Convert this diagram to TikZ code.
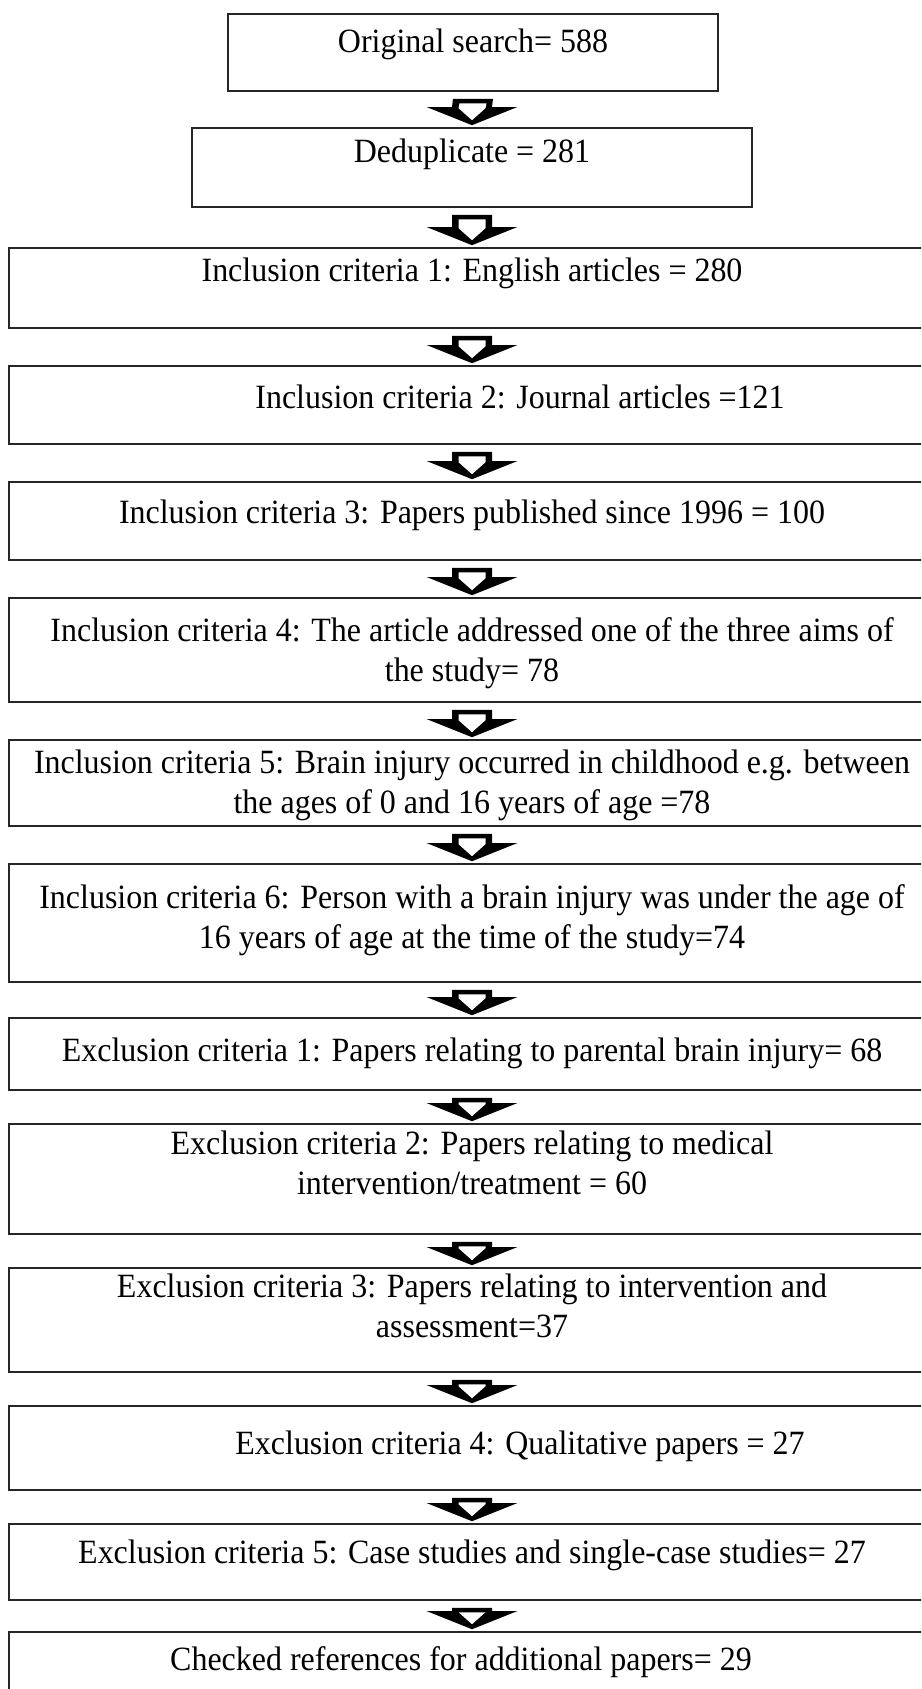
\documentclass[tikz,border=0pt]{standalone}
\usepackage{fontspec}
\setmainfont{Liberation Serif}[FakeStretch=0.94]
\usetikzlibrary{fit,calc}
\begin{document}
\begin{tikzpicture}[x=0.5pt,y=-0.5pt,
  box/.style={draw=black!85, line width=0.8pt, inner sep=0pt},
  txt/.style={font=\fontsize{17}{20}\selectfont, align=center, inner sep=0pt, text=black},
  blkout/.style={fill=black, draw=none},
  blkin/.style={fill=white, draw=none}]
\useasboundingbox (0,0) rectangle (921,1689);
\clip (0,0) rectangle (921,1689);
\newcommand{\blkarrow}[2]{%
  \fill[blkout] ($(#1.south)+(-20,7)$) -- ($(#1.south)+(20,7)$)
    -- ($(#2.north)+(20,-20)$) -- ($(#2.north)+(45,-20)$)
    -- ($(#2.north)+(0,-2)$)
    -- ($(#2.north)+(-45,-20)$) -- ($(#2.north)+(-20,-20)$) -- cycle;
  \fill[blkin] ($(#1.south)+(-13.5,11.5)$) -- ($(#1.south)+(13.5,11.5)$)
    -- ($(#2.north)+(13.5,-19)$) -- ($(#2.north)+(0,-7)$)
    -- ($(#2.north)+(-13.5,-19)$) -- cycle;}
% boxes
\node[box, fit={(228,14) (718,91)}] (b1) {};
\node[box, fit={(192,128) (752,207)}] (b2) {};
\node[box, fit={(9,248) (935,328)}] (b3) {};
\node[box, fit={(9,366) (935,444)}] (b4) {};
\node[box, fit={(9,482) (935,560)}] (b5) {};
\node[box, fit={(9,598) (935,702)}] (b6) {};
\node[box, fit={(9,740) (935,826)}] (b7) {};
\node[box, fit={(9,864) (935,982)}] (b8) {};
\node[box, fit={(9,1018) (935,1090)}] (b9) {};
\node[box, fit={(9,1124) (935,1234)}] (b10) {};
\node[box, fit={(9,1268) (935,1372)}] (b11) {};
\node[box, fit={(9,1406) (935,1490)}] (b12) {};
\node[box, fit={(9,1524) (935,1600)}] (b13) {};
\node[box, fit={(9,1632) (935,1720)}] (b14) {};
% texts
\node[txt] (t1) at (473,44) {Original search= 588};
\node[txt] (t2) at (472,154) {Deduplicate = 281};
\node[txt] (t3) at (472,273) {Inclusion criteria 1: English articles = 280};
\node[txt] (t4) at (520,397) {Inclusion criteria 2: Journal articles =121};
\node[txt] (t5) at (472,515) {Inclusion criteria 3: Papers published since 1996 = 100};
\node[txt] (t6) at (472,653) {Inclusion criteria 4: The article addressed one of the three aims of\\the study= 78};
\node[txt] (t7) at (472,785) {Inclusion criteria 5: Brain injury occurred in childhood e.g. between\\the ages of 0 and 16 years of age =78};
\node[txt] (t8) at (472,920) {Inclusion criteria 6: Person with a brain injury was under the age of\\16 years of age at the time of the study=74};
\node[txt] (t9) at (472,1053) {Exclusion criteria 1: Papers relating to parental brain injury= 68};
\node[txt] (t10) at (472,1163) {Exclusion criteria 2: Papers relating to medical\\intervention/treatment = 60};
\node[txt] (t11) at (472,1306) {Exclusion criteria 3: Papers relating to intervention and\\assessment=37};
\node[txt] (t12) at (520,1446) {Exclusion criteria 4: Qualitative papers = 27};
\node[txt] (t13) at (472,1555) {Exclusion criteria 5: Case studies and single-case studies= 27};
\node[txt] (t14) at (461,1662) {Checked references for additional papers= 29};
% arrows
\blkarrow{b1}{b2}
\blkarrow{b2}{b3}
\blkarrow{b3}{b4}
\blkarrow{b4}{b5}
\blkarrow{b5}{b6}
\blkarrow{b6}{b7}
\blkarrow{b7}{b8}
\blkarrow{b8}{b9}
\blkarrow{b9}{b10}
\blkarrow{b10}{b11}
\blkarrow{b11}{b12}
\blkarrow{b12}{b13}
\blkarrow{b13}{b14}
\end{tikzpicture}
\end{document}
